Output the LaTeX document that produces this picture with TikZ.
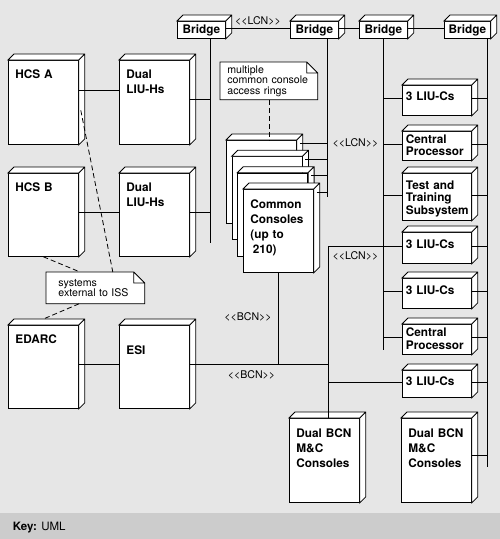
\documentclass[tikz,border=0pt]{standalone}
\usepackage{fontspec}
\setmainfont{TeX Gyre Heros}
\definecolor{panel}{HTML}{E6E6E6}
\definecolor{keyband}{HTML}{CCCCCC}
\newcommand{\umlfaces}[1]{\draw[fill=white] (#1.north west) -- ++(6,-6) -| ([shift={(6,-6)}]#1.south east) -- (#1.south east) -- (#1.north east) -- cycle (#1.north east) -- ++(6,-6);}
\newcommand{\notefold}[1]{\fill[panel] ([xshift=-11pt]#1.north east) -- (#1.north east) -- ([yshift=-11pt]#1.north east) -- cycle;
  \draw (#1.north west) -- ([xshift=-11pt]#1.north east) -- ([yshift=-11pt]#1.north east) -- (#1.south east) -- (#1.south west) -- cycle ([xshift=-11pt]#1.north east) |- ([yshift=-11pt]#1.north east);}
\newcommand{\stereo}[1]{<\kern0pt<#1>\kern0pt>}

\begin{document}
\begin{tikzpicture}[x=1pt,y=-1pt,line width=0.8pt,
    box/.style={draw,fill=white,anchor=north west,align=left,inner ysep=0pt,font=\bfseries\fontsize{11.8}{14.7}\selectfont},
    bigbox/.style 2 args={box,inner xsep=7pt,text width=56pt,text height=#1,text depth=#2},
    smallbox/.style 2 args={box,inner xsep=3.5pt,text width=62pt,text height=#1,text depth=#2,font=\bfseries\fontsize{11.8}{12.5}\selectfont},
    bridge/.style={box,align=center,inner sep=0pt,minimum width=48pt,minimum height=17pt},
    note/.style={fill=white,anchor=north west,align=left,inner ysep=0pt,font=\fontsize{10.6}{10.5}\selectfont},
    netlabel/.style={inner sep=0pt,font=\fontsize{10.6}{12}\selectfont},
    dep/.style={dash pattern=on 5pt off 3pt}]
        \useasboundingbox (0,0) rectangle (500,539);
        \fill[panel] (0,0) rectangle (500,513);
        \fill[keyband] (0,513) rectangle (500,539);
        \node[anchor=base west,inner sep=0pt,font=\fontsize{11.5}{14}\selectfont] (key) at (12.5,530) {\textbf{Key:} UML};

        \node[bridge] (br1) at (177,21) {Bridge};
        \node[bridge] (br2) at (290,21) {Bridge};
        \node[bridge] (br3) at (359,21) {Bridge};
        \node[bridge,minimum width=46pt] (br4) at (444,21) {Bridge};

        \node[bigbox={18pt}{66pt}] (hcsa) at (8,60) {HCS A};
        \node[bigbox={18pt}{66pt}] (liuh1) at (119,60) {Dual\\LIU-Hs};
        \node[bigbox={18pt}{65pt}] (hcsb) at (8,173) {HCS B};
        \node[bigbox={18pt}{65pt}] (liuh2) at (119,173) {Dual\\LIU-Hs};
        \node[bigbox={18pt}{65pt}] (edarc) at (8,325) {EDARC};
        \node[bigbox={29pt}{54pt}] (esi) at (119,325) {ESI};

        \node[smallbox={15pt}{15pt}] (liuc1) at (402,85) {3 LIU-Cs};
        \node[smallbox={12pt}{17pt}] (cp1) at (402,131) {Central\\Processor};
        \node[smallbox={16pt}{31pt}] (tt) at (402,173) {Test and\\Training\\Subsystem};
        \node[smallbox={16pt}{15pt}] (liuc2) at (402,232) {3 LIU-Cs};
        \node[smallbox={16pt}{14pt}] (liuc3) at (402,278) {3 LIU-Cs};
        \node[smallbox={12.5pt}{17.5pt}] (cp2) at (402,324) {Central\\Processor};
        \node[smallbox={15.5pt}{11.5pt}] (liuc4) at (402,370) {3 LIU-Cs};

        \node[bigbox={19.5pt}{64.5pt}] (dbcn1) at (289,418) {Dual BCN\\M\&C\\Consoles};
        \node[bigbox={19.5pt}{64.5pt}] (dbcn2) at (401,418) {Dual BCN\\M\&C\\Consoles};

        \foreach \n in {br1,br2,br3,br4,hcsa,liuh1,hcsb,liuh2,edarc,esi,liuc1,cp1,tt,liuc2,liuc3,cp2,liuc4,dbcn1,dbcn2}
            \umlfaces{\n};

        \foreach \i in {1,2,3} {
            \node[bigbox={18pt}{65pt}] (cons\i) at ({226+5.67*(\i-1)},{140+16.33*(\i-1)}) {};
            \umlfaces{cons\i}
        }
        \node[bigbox={19.5pt}{63.5pt}] (cons4) at (243,189) {Common\\Consoles\\(up to\\\hspace*{2.5pt}210)};
        \umlfaces{cons4}

        \node[note,text width=83pt,inner xsep=7pt,minimum height=37pt] (note1) at (220,62) {multiple\\common console\\access rings};
        \notefold{note1}
        \node[note,text width=74pt,inner xsep=12pt,minimum height=31pt] (note2) at (46,272) {systems\\external to ISS};
        \notefold{note2}

        \coordinate (bus1) at (210,243);
        \coordinate (bus2) at (327,197);
        \coordinate (bus3) at (383,350);
        \coordinate (bus4) at (487,467);
        \coordinate (lcn) at (328,246);
        \coordinate (bcn) at (328,364);

        \draw ([yshift=2pt]br1.east) -- ([yshift=2pt]br2.west) ([yshift=2pt]br2.east) -- ([yshift=2pt]br3.west) ([yshift=2pt]br3.east) -- ([yshift=2pt]br4.west);
        \draw (br1.south -| bus1) -- (bus1);
        \draw (br2.south -| bus2) -- (bus2);
        \draw (br3.south -| bus3) -- (bus3);
        \draw (br4.south -| bus4) -- (bus4);

        \draw ([yshift=12pt]hcsa.east) -- ([yshift=12pt]liuh1.west);
        \draw ([yshift=3pt]liuh1.east) -- ([yshift=3pt]liuh1.east -| bus1);
        \draw ([yshift=3pt]hcsb.east) -- ([yshift=3pt]liuh2.west);
        \draw ([yshift=3pt]liuh2.east) -- ([yshift=3pt]liuh2.east -| bus1);

        \foreach \i in {1,...,4}
            \draw ([shift={(3,3)}]cons\i.north east) -| (bus2);

        \foreach \n in {liuc1,cp1,tt,liuc3,cp2}
            \draw ([yshift=2pt]\n.west -| bus3) -- ([yshift=2pt]\n.west);
        \foreach \n in {liuc1,cp1,tt,liuc2,liuc3,cp2,liuc4}
            \draw ([yshift=2pt]\n.east) -- ([yshift=2pt]\n.east -| bus4);
        \draw ([yshift=5pt]dbcn2.east) -- ([yshift=5pt]dbcn2.east -| bus4);

        \draw ([yshift=2pt]liuc2.west) -| (dbcn1.north -| lcn);
        \draw (edarc.east |- bcn) -- (esi.west |- bcn);
        \draw (esi.east |- bcn) -- (bcn);
        \draw (cons4.south) -- (cons4.south |- bcn);
        \draw ([yshift=2pt]liuc4.west) -- ([yshift=2pt]liuc4.west -| bcn);

        \draw[dep] ([shift={(2,8)}]hcsa.east) -- ([xshift=-32pt]note2.north east);
        \draw[dep] (hcsb.south) -- ([xshift=34pt]note2.north west);
        \draw[dep] ([xshift=33pt]note2.south west) -- ([yshift=6pt]edarc.north);
        \draw[dep] (note1.south) -- (note1.south |- cons1.north);

        \node[netlabel] (lcn1) at (258,20.5) {\stereo{LCN}};
        \node[netlabel] (lcn2) at (355.5,143) {\stereo{LCN}};
        \node[netlabel] (lcn3) at (355.5,256) {\stereo{LCN}};
        \node[netlabel] (bcn1) at (248,317) {\stereo{BCN}};
        \node[netlabel] (bcn2) at (251.5,375) {\stereo{BCN}};
    \end{tikzpicture}
\end{document}
